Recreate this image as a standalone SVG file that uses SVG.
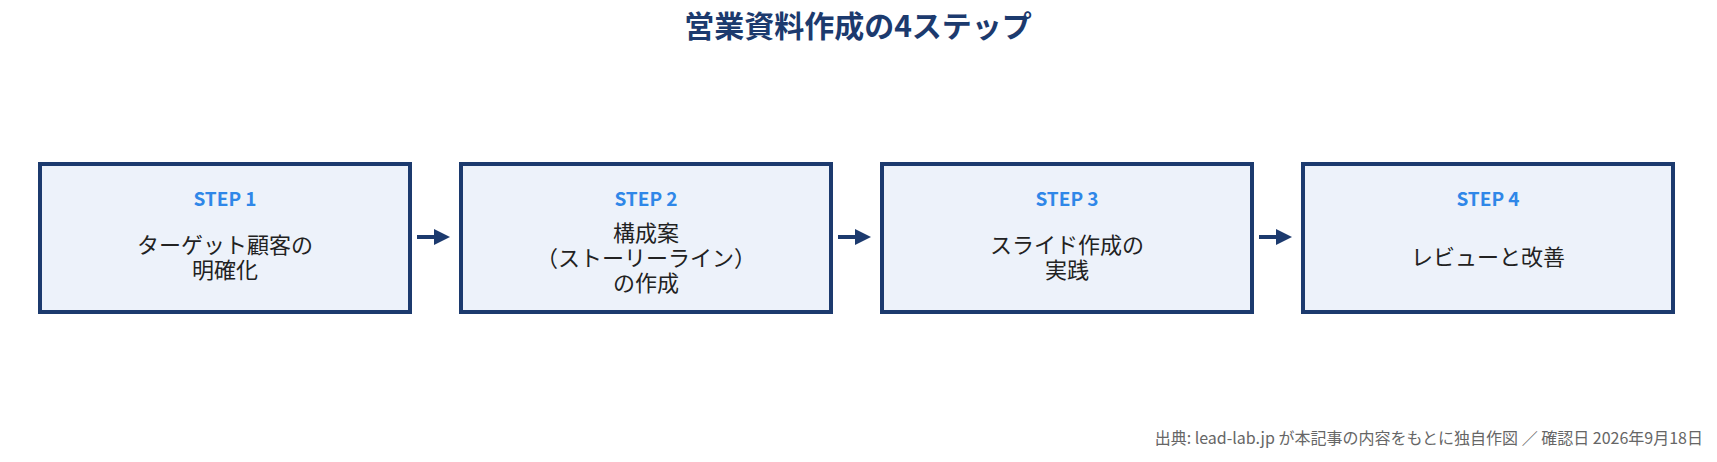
<svg xmlns="http://www.w3.org/2000/svg" width="1717" height="462" viewBox="0 0 1717 462">
<style>
text{font-family:"Noto Sans CJK JP","Noto Sans",sans-serif}
.box{fill:#edf2fa;stroke:#1c3a6e;stroke-width:4}
.step{fill:#2f87e8;font-size:19px;font-weight:bold;text-anchor:middle}
.body{fill:#222;font-size:22px;text-anchor:middle}
.con{stroke:#1c3a6e;stroke-width:4;fill:none;marker-end:url(#ah)}
</style>
<defs><marker id="ah" markerWidth="4" markerHeight="4" refX="3" refY="2" orient="auto"><path d="M0,0L4,2L0,4z" fill="#1c3a6e"/></marker></defs>
<rect width="1717" height="462" fill="#fff"/>
<text x="858" y="37" text-anchor="middle" font-size="30" font-weight="bold" fill="#1c3a6e">営業資料作成の4ステップ</text>
<g id="n1"><rect class="box" x="40" y="164" width="370" height="148"/><text class="step" x="225" y="206">STEP 1</text><text class="body" x="225" y="253">ターゲット顧客の</text><text class="body" x="225" y="278">明確化</text></g>
<g id="n2"><rect class="box" x="461" y="164" width="370" height="148"/><text class="step" x="646" y="206">STEP 2</text><text class="body" x="646" y="241">構成案</text><text class="body" x="646" y="266">（ストーリーライン）</text><text class="body" x="646" y="291">の作成</text></g>
<g id="n3"><rect class="box" x="882" y="164" width="370" height="148"/><text class="step" x="1067" y="206">STEP 3</text><text class="body" x="1067" y="253">スライド作成の</text><text class="body" x="1067" y="278">実践</text></g>
<g id="n4"><rect class="box" x="1303" y="164" width="370" height="148"/><text class="step" x="1488" y="206">STEP 4</text><text class="body" x="1488" y="265">レビューと改善</text></g>
<g id="connectors">
<line class="con" x1="417" y1="237" x2="446" y2="237"/>
<line class="con" x1="838" y1="237" x2="867" y2="237"/>
<line class="con" x1="1259" y1="237" x2="1288" y2="237"/>
</g>
<text x="1703" y="444" text-anchor="end" font-size="16" fill="#666">出典: lead-lab.jp が本記事の内容をもとに独自作図 ／ 確認日 2026年9月18日</text>
</svg>
